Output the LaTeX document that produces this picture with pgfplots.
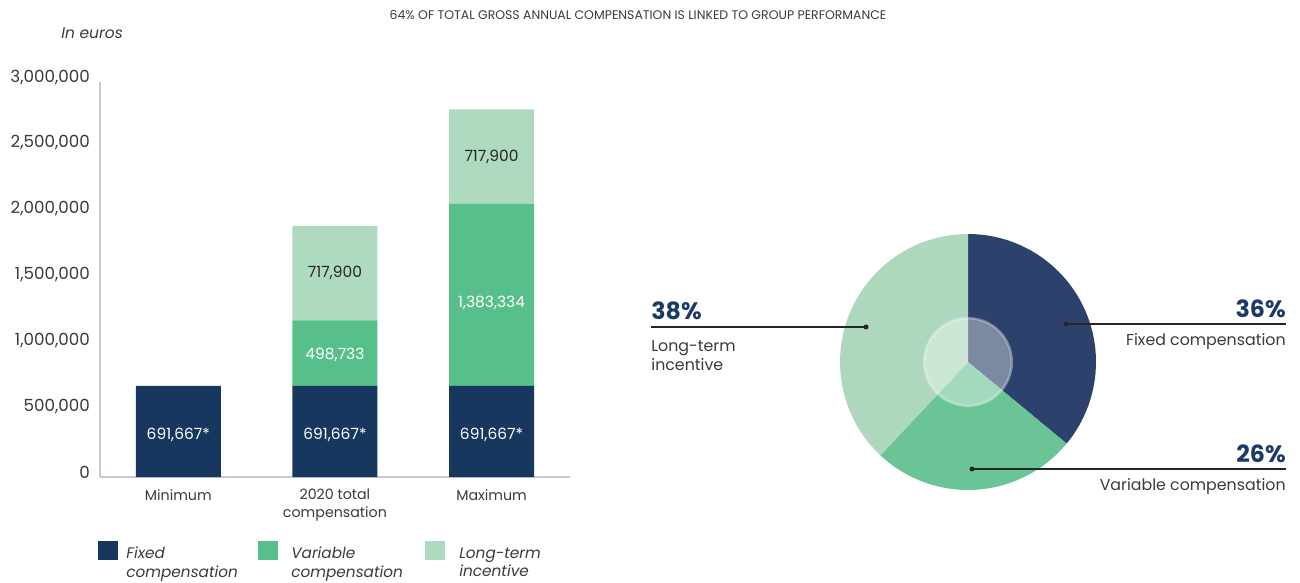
\documentclass[border=0pt]{standalone}
\usepackage{pgfplots}
\pgfplotsset{compat=1.18}
\usepackage{fontspec}
\setmainfont{Poppins}

\definecolor{navy}{HTML}{17375F}
\definecolor{midgreen}{HTML}{56BF8A}
\definecolor{lightgreen}{HTML}{AEDAC0}
\definecolor{pienavy}{HTML}{2C426C}
\definecolor{piegreen}{HTML}{6BC495}
\definecolor{pielight}{HTML}{ADD8BE}
\definecolor{txt}{HTML}{3A3A3A}
\definecolor{axisgray}{HTML}{C5C9D8}
\definecolor{pctblue}{HTML}{1B3A66}

\tikzset{barlbl/.style={font=\fontsize{8.8}{10}\selectfont}}

\begin{document}
\begin{tikzpicture}
% stacked bars; axis box from px (100,477) to (570,82) of the 1300x582 reference (1 px = 0.02cm)
\begin{axis}[
    at={(2cm,2.1cm)}, anchor=south west,
    scale only axis, width=9.4cm, height=7.9cm,
    xmin=-0.5, xmax=2.5, ymin=0, ymax=3000000,
    ybar stacked, bar width=1.7cm,
    axis lines=left,
    axis line style={axisgray, line width=0.8pt, -},
    major tick length=0,
    xtick={0,1,2},
    xticklabels={Minimum,{2020 total\\compensation},Maximum},
    xticklabel style={align=center, txt, font=\fontsize{8.1}{10.2}\selectfont, yshift=-0.12cm},
    ytick={0,500000,1000000,1500000,2000000,2500000,3000000},
    scaled y ticks=false,
    /pgf/number format/fixed,
    /pgf/number format/1000 sep={,},
    /pgf/number format/assume math mode=true,
    yticklabel style={txt, font=\fontsize{9.5}{10}\selectfont, xshift=-0.08cm, yshift=0.1cm},
]
\addplot[fill=navy, draw=none] coordinates {(0,691667) (1,691667) (2,691667)};
\addplot[fill=midgreen, draw=none] coordinates {(0,0) (1,498733) (2,1383334)};
\addplot[fill=lightgreen, draw=none] coordinates {(0,0) (1,717900) (2,717900)};

% label positions, drawn after the axis so they sit above the bars
\coordinate (f0) at (axis cs:0,319000);
\coordinate (f1) at (axis cs:1,319000);
\coordinate (f2) at (axis cs:2,319000);
\coordinate (v1) at (axis cs:1,926600);
\coordinate (v2) at (axis cs:2,1321500);
\coordinate (t1) at (axis cs:1,1549350);
\coordinate (t2) at (axis cs:2,2433951);
\end{axis}

\node[barlbl, white] at (f0) {691,667*};
\node[barlbl, white] at (f1) {691,667*};
\node[barlbl, white] at (f2) {691,667*};
\node[barlbl, white] at (v1) {498,733};
\node[barlbl, white] at (v2) {1,383,334};
\node[barlbl, black!85] at (t1) {717,900};
\node[barlbl, black!85] at (t2) {717,900};

\begin{scope}[x=0.02cm,y=0.02cm]
% 1 unit = 1 pixel of the reference, y counted from the bottom
\path[use as bounding box] (0,0) rectangle (1300,582);

% title and unit
\node[txt, font=\fontsize{7.1}{8}\selectfont] at (638,567) {64\% OF TOTAL GROSS ANNUAL COMPENSATION IS LINKED TO GROUP PERFORMANCE};
\node[txt, anchor=west, inner sep=0, font=\itshape\fontsize{8.8}{10}\selectfont] at (61,549) {In euros};

% legend
\begin{scope}[font=\itshape\fontsize{8.7}{10.8}\selectfont]
\fill[navy] (98,41) rectangle (118,22);
\node[txt, anchor=north west, align=left, inner sep=0] at (126,35) {Fixed\\compensation};
\fill[midgreen] (258,41) rectangle (278,22);
\node[txt, anchor=north west, align=left, inner sep=0] at (291,35) {Variable\\compensation};
\fill[lightgreen] (425,41) rectangle (445,22);
\node[txt, anchor=north west, align=left, inner sep=0] at (459,35) {Long-term\\incentive};
\end{scope}

% pie chart
\begin{scope}[shift={(968,220)}, x=1cm, y=1cm]
\gdef\startang{90}
\foreach \v/\c in {36/pienavy,26/piegreen,38/pielight}{
  \pgfmathsetmacro\endang{\startang-3.6*\v}
  \fill[\c] (0,0) -- (\startang:2.56) arc[start angle=\startang, end angle=\endang, radius=2.56cm] -- cycle;
  \global\let\startang\endang
}
\fill[white, opacity=0.38] (0,0) circle[radius=0.9cm];
\draw[white, opacity=0.35, line width=0.5pt] (0,0) circle[radius=0.86cm];
\end{scope}

% pie callouts
\draw[black!85, line width=0.8pt] (651,255) -- (866,255);
\fill[black!85] (866,255) circle[radius=0.05cm];
\draw[black!85, line width=0.8pt] (1066,258) -- (1286,258);
\fill[black!85] (1066,258) circle[radius=0.05cm];
\draw[black!85, line width=0.8pt] (972,113) -- (1286,113);
\fill[black!85] (972,113) circle[radius=0.05cm];

\begin{scope}[font=\bfseries\fontsize{13.5}{15}\selectfont, pctblue, inner sep=0]
\node[anchor=base west] at (651,263) {38\%};
\node[anchor=base east] at (1286,265) {36\%};
\node[anchor=base east] at (1286,120) {26\%};
\end{scope}
\begin{scope}[font=\fontsize{9}{10.8}\selectfont, txt, inner sep=0]
\node[anchor=base west, align=left] at (651,212) {Long-term\\incentive};
\node[anchor=base east] at (1286,237) {Fixed compensation};
\node[anchor=base east] at (1286,92) {Variable compensation};
\end{scope}
\end{scope}
\end{tikzpicture}
\end{document}
